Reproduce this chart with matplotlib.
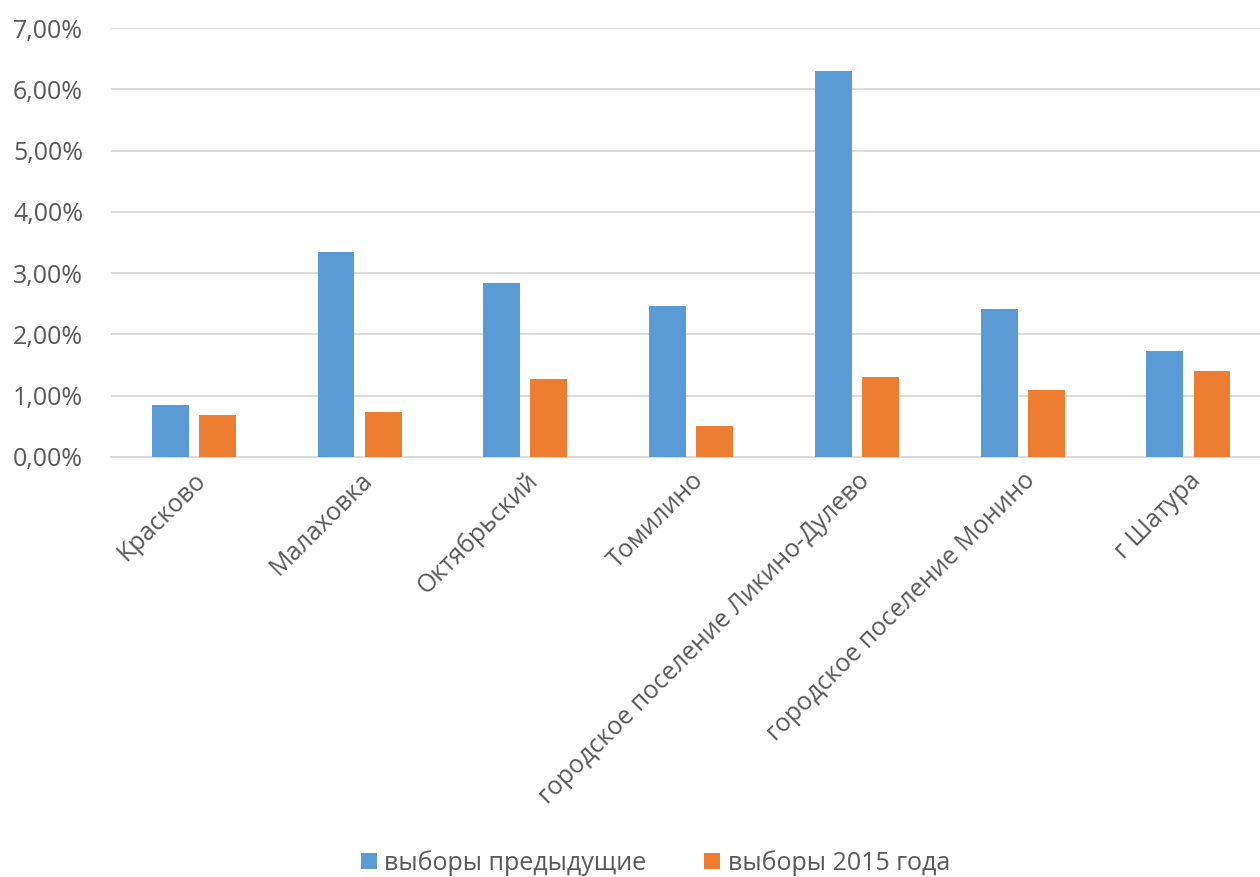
import numpy as np
import matplotlib.pyplot as plt
from matplotlib.ticker import FuncFormatter

# data
categories = ['Красково', 'Малаховка', 'Октябрьский', 'Томилино',
              'городское поселение Ликино-Дулево', 'городское поселение Монино', 'г Шатура']
prev_vals = [0.84, 3.35, 2.84, 2.47, 6.30, 2.42, 1.73]
vals_2015 = [0.68, 0.74, 1.27, 0.51, 1.30, 1.09, 1.41]
series_names = ['выборы предыдущие', 'выборы 2015 года']

plt.rcParams['font.family'] = ['Open Sans', 'DejaVu Sans']

fig = plt.figure(figsize=(12.6, 8.77), dpi=100)
ax = fig.add_axes([0.088, 0.479, 0.921, 0.489])

x = np.arange(len(categories))
w = 0.223
off = 0.142
ax.bar(x - off, prev_vals, w, color='#5B9BD5', label=series_names[0], zorder=3)
ax.bar(x + off, vals_2015, w, color='#ED7D31', label=series_names[1], zorder=3)

ax.set_xlim(-0.5, 6.5)
ax.set_ylim(0, 7)
ax.set_yticks(np.arange(0, 8, 1))
ax.yaxis.set_major_formatter(FuncFormatter(lambda v, p: f'{v:.2f}%'.replace('.', ',')))
ax.grid(axis='y', color='#d9d9d9', linewidth=1.3, zorder=0)
for s in ['top', 'right', 'left']:
    ax.spines[s].set_visible(False)
ax.spines['bottom'].set_color('#d9d9d9')
ax.spines['bottom'].set_linewidth(1.3)
ax.tick_params(axis='both', length=0, labelsize=18, colors='#595959')
ax.tick_params(axis='y', pad=20)
ax.tick_params(axis='x', pad=8)
ax.set_xticks(x)
ax.set_xticklabels(categories, rotation=45, ha='right', rotation_mode='anchor')

fig.legend(loc='center', bbox_to_anchor=(0.52, 0.016), ncol=2, frameon=False,
           fontsize=18, labelcolor='#595959', handlelength=0.65, handleheight=0.65,
           handletextpad=0.3, columnspacing=2.3)

fig.savefig('out.png', dpi=100, facecolor='white')
